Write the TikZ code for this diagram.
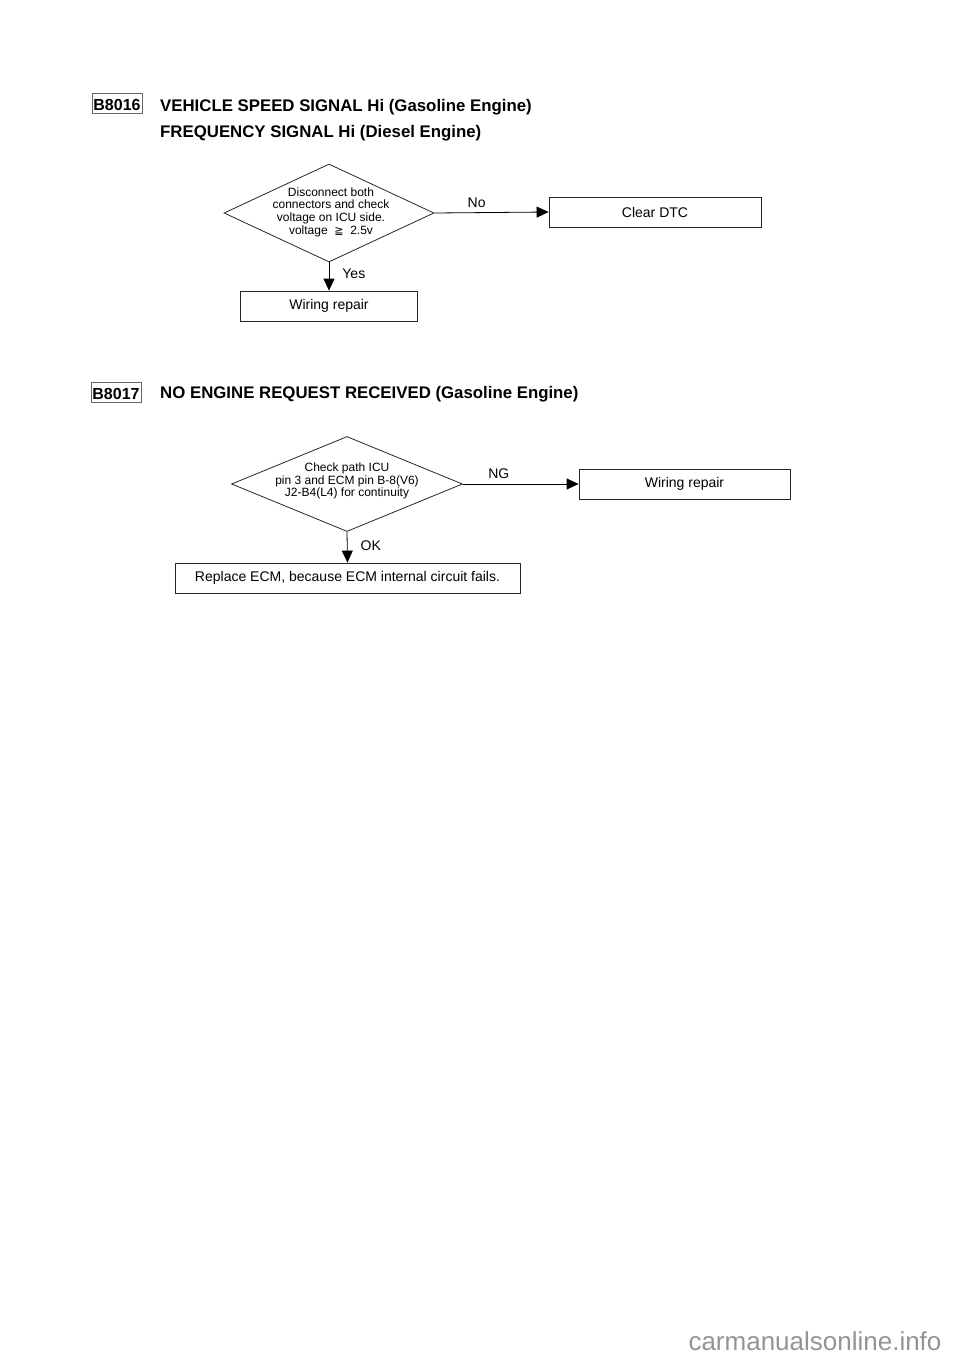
\documentclass[tikz,border=0pt]{standalone}
\usepackage{fontspec}
\setmainfont{Liberation Sans}
\usetikzlibrary{shapes.geometric,arrows.meta}
\tikzset{
  px/.style={x=1pt,y=-1pt},
  box/.style={draw=black!85,line width=0.8pt,inner sep=0pt,font=\fontsize{14}{16}\selectfont},
  dia/.style={diamond,draw=black!85,line width=0.8pt,inner sep=0pt},
  dtext/.style={align=center,font=\fontsize{12}{12.6}\selectfont,inner sep=0pt},
  lbl/.style={font=\fontsize{14}{16}\selectfont,inner sep=0pt},
  code/.style={draw=black!60,line width=0.7pt,inner xsep=1.5pt,inner ysep=0pt,text height=16.5pt,text depth=3pt,anchor=base,font=\bfseries\fontsize{16}{18}\selectfont},
  head/.style={anchor=base west,inner sep=0pt,font=\bfseries\fontsize{16.8}{19}\selectfont},
  arr/.style={line width=0.8pt,-{Triangle[length=12pt,width=11pt]}},
}
\begin{document}
\begin{tikzpicture}[px]
\useasboundingbox (0,0) rectangle (960,1358);
% --- B8016 section ---
\node[code] (c1) at (117,110) {B8016};
\node[head] (h1) at (160,111) {VEHICLE SPEED SIGNAL Hi (Gasoline Engine)};
\node[head] (h2) at (160,137) {FREQUENCY SIGNAL Hi (Diesel Engine)};
\node[dia,minimum width=210pt,minimum height=98pt] (d1) at (329,213) {};
\node[dtext] (d1t) at (331,212) {Disconnect both\\connectors and check\\voltage on ICU side.\\voltage \ {\fontspec{DejaVu Sans}\fontsize{11}{12}\selectfont ≧}\ \ 2.5v};
\node[box,minimum width=212pt,minimum height=30pt] (clear) at (655,212) {Clear DTC};
\node[box,minimum width=177pt,minimum height=30pt] (wr1) at (329,306) {Wiring repair};
\draw[arr] (d1.east) -- (clear.west) node[lbl,pos=0.37,above=5pt] (no) {No};
\draw[arr] (d1.south) -- (wr1.north) node[lbl,pos=0.4,right=13pt] (yes) {Yes};
% --- B8017 section ---
\node[code] (c2) at (116,399) {B8017};
\node[head] (h3) at (160,398) {NO ENGINE REQUEST RECEIVED (Gasoline Engine)};
\node[dia,minimum width=231pt,minimum height=95pt] (d2) at (347,484) {};
\node[dtext] (d2t) at (347,481) {Check path ICU\\pin 3 and ECM pin B-8(V6)\\J2-B4(L4) for continuity};
\node[box,minimum width=211pt,minimum height=30pt] (wr2) at (684.5,484) {Wiring repair};
\node[box,minimum width=345pt,minimum height=30pt] (rep) at (347.5,578) {Replace ECM, because ECM internal circuit fails.};
\draw[arr] (d2.east) -- (wr2.west) node[lbl,pos=0.31,above=5pt] (ng) {NG};
\draw[arr] (d2.south) -- (rep.north) node[lbl,pos=0.45,right=13pt] (ok) {OK};
% --- watermark ---
\node[inner sep=0pt,text=black!42,font=\fontsize{26}{28}\selectfont] (wm) at (815,1341) {carmanualsonline.info};
\end{tikzpicture}
\end{document}
